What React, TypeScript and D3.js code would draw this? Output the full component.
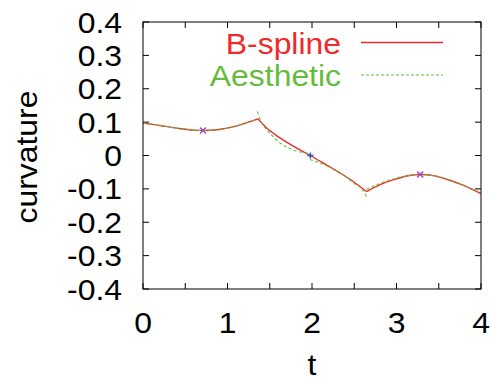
import React from 'react';
import * as d3 from 'd3';

// curvature plot: B-spline vs aesthetic curve segments
const bsplineSegs: [number, number][][] = [
  [[0, 0.097], [0.2, 0.09], [0.4, 0.082], [0.6, 0.076], [0.71, 0.075], [0.9, 0.078], [1.1, 0.088], [1.25, 0.1], [1.36, 0.11]],
  [[1.36, 0.11], [1.46, 0.083], [1.62, 0.053], [1.8, 0.025], [1.98, 0.0], [2.15, -0.025], [2.33, -0.052], [2.5, -0.08], [2.645, -0.108]],
  [[2.645, -0.108], [2.8, -0.088], [3.0, -0.07], [3.15, -0.06], [3.28, -0.057], [3.45, -0.061], [3.6, -0.072], [3.8, -0.09], [4.0, -0.114]],
];

const aestheticSegs: [number, number][][] = [
  [[0, 0.097], [0.2, 0.09], [0.4, 0.082], [0.6, 0.076], [0.71, 0.075], [0.9, 0.078], [1.1, 0.088], [1.25, 0.1], [1.35, 0.11]],
  [[1.354, 0.132], [1.405, 0.098], [1.48, 0.073], [1.62, 0.038], [1.82, 0.013], [1.96, 0.006]],
  [[1.976, -0.012], [2.09, -0.022], [2.33, -0.052], [2.49, -0.082], [2.59, -0.101], [2.645, -0.123]],
  [[2.645, -0.101], [2.88, -0.077], [3.1, -0.062], [3.28, -0.057], [3.5, -0.063], [3.7, -0.08], [3.96, -0.107]],
];

const crossPts: [number, number][] = [[0.71, 0.075], [3.28, -0.057]];
const plusPts: [number, number][] = [[1.98, 0.0]];

const xTicks = [0, 1, 2, 3, 4];
const xMinor = [0, 0.5, 1, 1.5, 2, 2.5, 3, 3.5, 4];
const yTicks = [0.4, 0.3, 0.2, 0.1, 0, -0.1, -0.2, -0.3, -0.4];

const RED = '#ee2a2a';
const GREEN = '#66bb3c';
const font = { fontFamily: '"Liberation Sans", Arial, sans-serif', fontSize: 29 };

// gnuplot's font is a bit wider than Liberation Sans, so stretch along the text
function Label({ x, y, rot = 0, anchor = 'middle', fill = '#000', children }: any) {
  return (
    <text transform={`translate(${x},${y}) rotate(${rot}) scale(1.1,1)`} textAnchor={anchor} style={{ ...font, fill }}>
      {children}
    </text>
  );
}

export default function App() {
  const left = 143, right = 481, top = 22, bottom = 289;
  const x = d3.scaleLinear().domain([0, 4]).range([left, right]);
  const y = d3.scaleLinear().domain([-0.4, 0.4]).range([bottom, top]);
  const line = d3.line<[number, number]>()
    .x(d => x(d[0]))
    .y(d => y(d[1]))
    .curve(d3.curveMonotoneX);

  return (
    <svg width={492} height={381} style={{ position: 'absolute', left: 0, top: 0, background: '#fff' }}>
      {/* tick marks */}
      {xMinor.map(t => (
        <g key={'xt' + t} stroke="#000" strokeWidth={1}>
          <line x1={x(t)} x2={x(t)} y1={bottom} y2={bottom - 6} />
          <line x1={x(t)} x2={x(t)} y1={top} y2={top + 6} />
        </g>
      ))}
      {yTicks.map(v => (
        <g key={'yt' + v} stroke="#000" strokeWidth={1}>
          <line x1={left} x2={left + 6} y1={y(v)} y2={y(v)} />
          <line x1={right} x2={right - 6} y1={y(v)} y2={y(v)} />
        </g>
      ))}

      {/* curves */}
      {bsplineSegs.map((s, i) => (
        <path key={'r' + i} d={line(s) || ''} fill="none" stroke={RED} strokeWidth={1.4} />
      ))}
      {aestheticSegs.map((s, i) => (
        <path key={'g' + i} d={line(s) || ''} fill="none" stroke={GREEN} strokeWidth={1.1} strokeDasharray="3,2.5" />
      ))}

      {/* markers */}
      {crossPts.map((p, i) => (
        <g key={'c' + i} stroke="#a04cc0" strokeWidth={1.5}>
          <line x1={x(p[0]) - 3} x2={x(p[0]) + 3} y1={y(p[1]) - 3} y2={y(p[1]) + 3} />
          <line x1={x(p[0]) - 3} x2={x(p[0]) + 3} y1={y(p[1]) + 3} y2={y(p[1]) - 3} />
        </g>
      ))}
      {plusPts.map((p, i) => (
        <g key={'p' + i} stroke="#2a5cb8" strokeWidth={1.6}>
          <line x1={x(p[0]) - 3} x2={x(p[0]) + 3} y1={y(p[1])} y2={y(p[1])} />
          <line x1={x(p[0])} x2={x(p[0])} y1={y(p[1]) - 3} y2={y(p[1]) + 3} />
        </g>
      ))}

      {/* frame */}
      <rect x={left} y={top} width={right - left} height={bottom - top} fill="none" stroke="#000" strokeWidth={1} />

      {/* tick labels */}
      {yTicks.map(v => (
        <Label key={'yl' + v} x={122} y={y(v) + 10.5} anchor="end">
          {v === 0 ? '0' : d3.format('.1f')(v).replace('−', '-')}
        </Label>
      ))}
      {xTicks.map(t => (
        <Label key={'xl' + t} x={x(t)} y={333}>{t}</Label>
      ))}

      {/* axis titles */}
      <Label x={(left + right) / 2} y={375}>t</Label>
      <Label x={37} y={157} rot={-90}>curvature</Label>

      {/* legend */}
      <Label x={341} y={54} anchor="end" fill={RED}>B-spline</Label>
      <line x1={361} x2={443} y1={42.5} y2={42.5} stroke={RED} strokeWidth={1.3} />
      <Label x={341} y={86} anchor="end" fill={GREEN}>Aesthetic</Label>
      <line x1={361} x2={443} y1={75} y2={75} stroke={GREEN} strokeWidth={1.2} strokeDasharray="3,2" />
    </svg>
  );
}
